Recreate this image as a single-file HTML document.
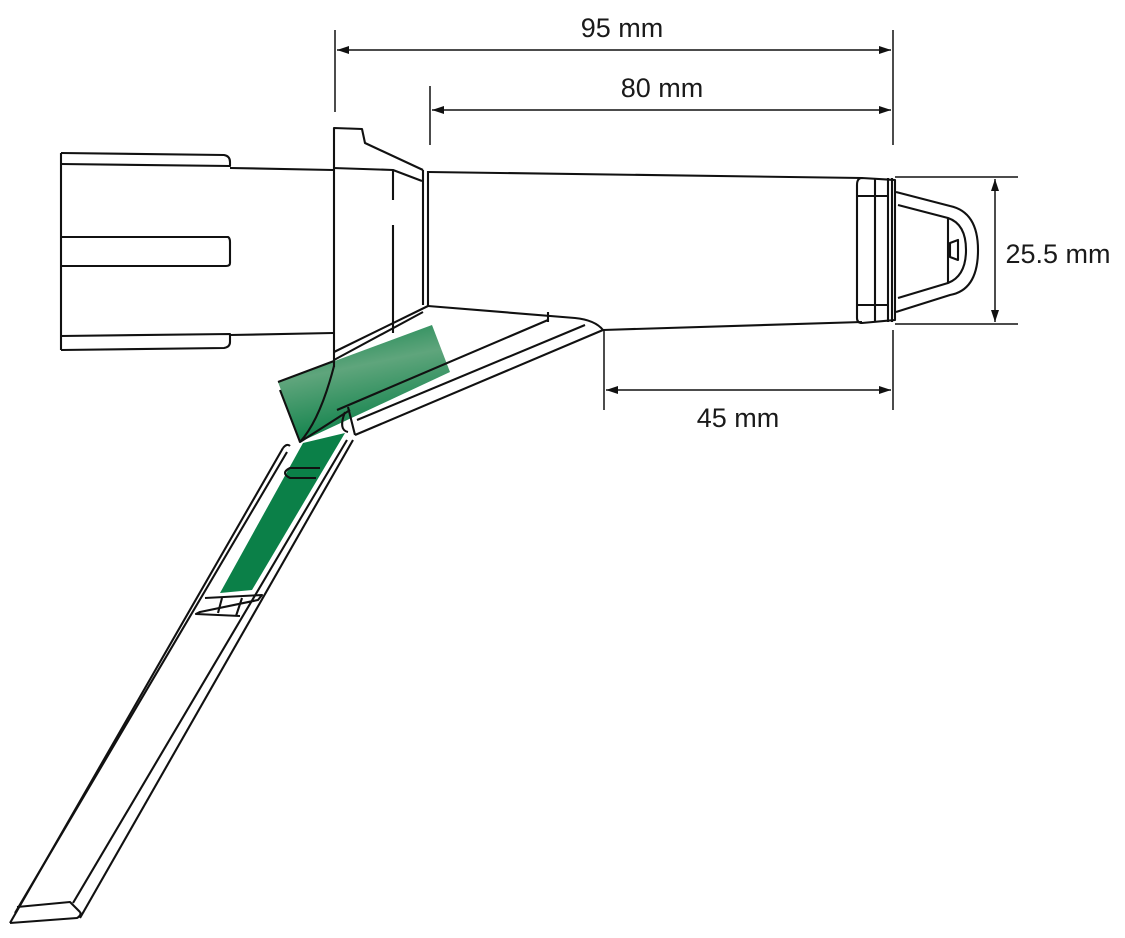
<!DOCTYPE html>
<html><head><meta charset="utf-8"><style>
html,body{margin:0;padding:0;background:#fff}
svg{display:block}
text{font-family:"Liberation Sans",Arial,sans-serif;font-size:27px;fill:#1a1a1a}
</style></head><body>
<svg width="1125" height="938" viewBox="0 0 1125 938" xmlns="http://www.w3.org/2000/svg">
<defs>
<linearGradient id="g" x1="0" y1="0" x2="0.3" y2="1">
<stop offset="0" stop-color="#0b8048"/><stop offset="0.45" stop-color="#5fa57c"/><stop offset="1" stop-color="#0b8048"/>
</linearGradient>
<marker id="a" markerWidth="12" markerHeight="8" refX="12" refY="4" orient="auto-start-reverse" markerUnits="userSpaceOnUse"><path d="M0,0 L12,4 L0,8z" fill="#111"/></marker>
</defs>
<g stroke="#111" stroke-width="1.5" fill="none">
<line x1="335" y1="30" x2="335" y2="112"/>
<line x1="893" y1="30" x2="893" y2="145"/>
<line x1="430" y1="86" x2="430" y2="145"/>
<line x1="337" y1="50" x2="891" y2="50" marker-start="url(#a)" marker-end="url(#a)"/>
<line x1="432" y1="110" x2="891" y2="110" marker-start="url(#a)" marker-end="url(#a)"/>
<line x1="604" y1="330" x2="604" y2="410"/>
<line x1="893" y1="330" x2="893" y2="410"/>
<line x1="606" y1="390" x2="891" y2="390" marker-start="url(#a)" marker-end="url(#a)"/>
<line x1="895" y1="177" x2="1018" y2="177"/>
<line x1="895" y1="324" x2="1018" y2="324"/>
<line x1="995" y1="179" x2="995" y2="322" marker-start="url(#a)" marker-end="url(#a)"/>
</g>
<text x="622" y="37" text-anchor="middle">95 mm</text>
<text x="662" y="97" text-anchor="middle">80 mm</text>
<text x="738" y="427" text-anchor="middle">45 mm</text>
<text x="1058" y="263" text-anchor="middle">25.5 mm</text>

<polygon points="278,382 432,325 450,372 300,442" fill="url(#g)"/>
<polygon points="220,593 252,590 345,433 303,443" fill="#0b8048"/>

<g stroke="#111" stroke-width="2.1" fill="none" stroke-linejoin="round">
<path d="M61,153 L61,350"/>
<path d="M61,153 L224,155 Q230,156 230,162 L230,166 L61,164"/>
<path d="M230,168 L333,170"/>
<path d="M61,237 L228,237 Q230,238 230,242 L230,263 Q230,266 226,266 L61,266"/>
<path d="M61,350 L224,348 Q230,347 230,342 L230,334 L61,336"/>
<path d="M230,335 L333,333"/>
<path d="M334,367 L334,128 L362,129 L365,143 L423,170"/>
<path d="M333,168 L393,170 L422,181"/>
<path d="M393,170 L393,200 M393,225 L393,333"/>
<path d="M423,170 L423,305 M428,171 L428,306"/>
<path d="M428,172 L862,178"/>
<path d="M428,306 L575,318 Q595,320 603,330"/>
<path d="M603,330 L862,322"/>
<path d="M862,178 Q857,178 857,185 L857,318 Q857,323 862,323 L895,320 L895,180 Z"/>
<path d="M875,178 L875,322 M888,178 L888,322 M892,178 L892,322"/>
<path d="M857,196 L888,196 M857,305 L888,305"/>
<path d="M896,192 L950,206 Q978,212 978,250 Q978,290 950,295 L896,312"/>
<path d="M898,205 L948,218 Q966,224 966,250 Q966,276 948,283 L898,298"/>
<path d="M948,218 L948,283"/>
<path d="M950,243 L958,240 L958,260 L950,257 Z"/>
<path d="M603,330 L355,435"/>
<path d="M585,325 L357,420"/>
<path d="M548,320 L337,410"/>
<path d="M548,312 L548,322"/>
<path d="M428,306 L334,352 M423,312 L334,360"/>
<path d="M278,382 L334,361 M280,390 L300,442"/>
<path d="M334,366 Q320,420 300,442 L350,410"/>
<path d="M348,407 L355,435 M345,412 Q338,430 348,432"/>
<path d="M353,440 L80,918"/>
<path d="M347,440 L73,903"/>
<path d="M283,448 L10,923"/>
<path d="M287,452 L15,913"/>
<path d="M10,923 L77,918 Q82,915 80,912"/>
<path d="M17,907 L70,902 L80,912"/>
<path d="M283,448 Q287,443 290,446"/>
<path d="M320,468 L290,468 Q280,473 290,478 L316,478"/>
<path d="M205,598 L262,595 L258,600 L200,612 L196,614 L240,616"/>
<path d="M222,598 L218,613 M242,598 L236,616"/>
</g>
</svg>
</body></html>
